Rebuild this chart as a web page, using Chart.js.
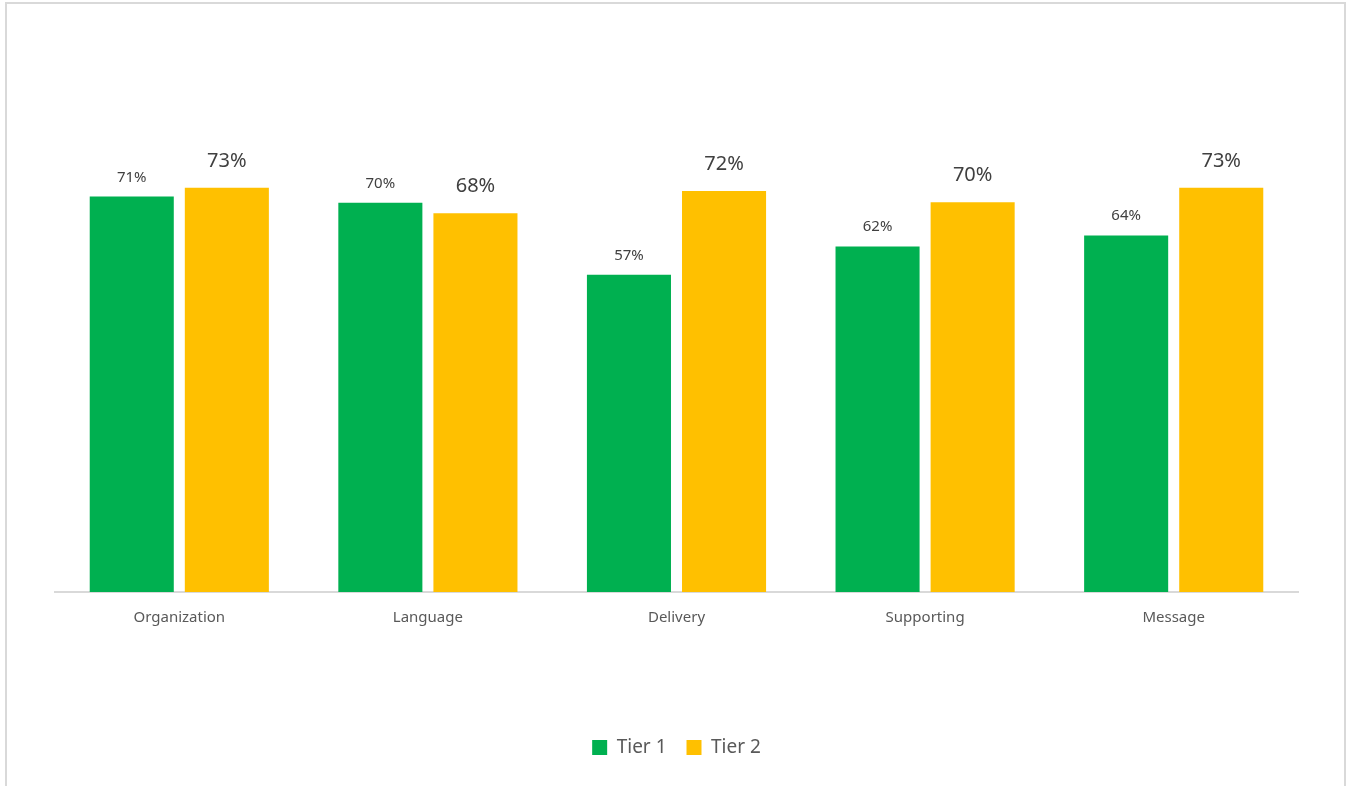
<!DOCTYPE html>
<html>
<head>
<meta charset="utf-8">
<script src="https://cdn.jsdelivr.net/npm/chart.js@4.4.1/dist/chart.umd.min.js"></script>
<style>
  html, body { margin: 0; padding: 0; background: #fff; }
  #wrap { position: relative; width: 1350px; height: 786px; overflow: hidden; }
  #frame { position: absolute; left: 5px; top: 2px; width: 1341px; height: 800px; border: 2px solid #d9d9d9; box-sizing: border-box; }
  canvas { position: absolute; left: 0; top: 0; }
</style>
</head>
<body>
<div id="wrap">
  <div id="frame"></div>
  <canvas id="chart" width="1350" height="786"></canvas>
</div>
<script>
// 数据
const categories = ['Organization', 'Language', 'Delivery', 'Supporting', 'Message'];
const tier1 = [71.4, 70.3, 57.3, 62.4, 64.4];
const tier2 = [73.0, 68.4, 72.4, 70.4, 73.0];

// 柱顶数值标签
const valueLabels = {
    id: 'valueLabels',
    afterDatasetsDraw(chart) {
        const ctx = chart.ctx;
        chart.data.datasets.forEach((ds, i) => {
            const meta = chart.getDatasetMeta(i);
            const size = i === 0 ? 15 : 20;
            const gap = i === 0 ? 15 : 21;
            ctx.save();
            ctx.font = size + 'px "Noto Sans"';
            ctx.fillStyle = '#404040';
            ctx.textAlign = 'center';
            ctx.textBaseline = 'alphabetic';
            meta.data.forEach((bar, j) => {
                ctx.fillText(Math.round(ds.data[j]) + '%', bar.x, bar.y - gap);
            });
            ctx.restore();
        });
    }
};

new Chart(document.getElementById('chart'), {
    type: 'bar',
    data: {
        labels: categories,
        datasets: [
            { label: 'Tier 1', data: tier1, backgroundColor: '#00B050' },
            { label: 'Tier 2', data: tier2, backgroundColor: '#FFC000' }
        ]
    },
    options: {
        responsive: false,
        animation: false,
        categoryPercentage: 0.765,
        barPercentage: 0.884,
        layout: { padding: { left: 55, right: 52, top: 149, bottom: 19 } },
        plugins: {
            legend: {
                position: 'bottom',
                labels: {
                    boxWidth: 15,
                    boxHeight: 15,
                    padding: 20,
                    color: '#595959',
                    font: { family: 'Noto Sans', size: 19 }
                }
            },
            tooltip: { enabled: false }
        },
        scales: {
            x: {
                grid: { display: false, drawTicks: false },
                border: { display: true, color: '#d9d9d9', width: 2 },
                ticks: {
                    padding: 17,
                    color: '#595959',
                    font: { family: 'Noto Sans', size: 15 }
                },
                afterFit(axis) { axis.height = 126; }
            },
            y: {
                display: false,
                min: 0,
                max: 80
            }
        }
    },
    plugins: [valueLabels]
});
</script>
</body>
</html>
